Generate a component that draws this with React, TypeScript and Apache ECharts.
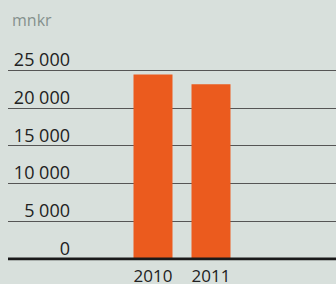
import React, { useEffect, useRef } from "react";
import * as echarts from "echarts";

const categories = ["2010", "2011"];
const values = [24400, 23100];
const unitLabel = "mnkr";
const yMax = 25000;
const yStep = 5000;

const fmt = (v: number) =>
  v === 0 ? "0" : String(v).replace(/\B(?=(\d{3})+(?!\d))/g, " ");

export default function App() {
  const ref = useRef<HTMLDivElement>(null);
  useEffect(() => {
    if (!ref.current) return;
    const chart = echarts.init(ref.current, undefined, { renderer: "svg" });
    const font = "'Open Sans', 'Noto Sans', sans-serif";
    chart.setOption({
      animation: false,
      backgroundColor: "#d8e0dc",
      title: {
        text: unitLabel,
        left: 7,
        top: 7,
        textStyle: { color: "#85908d", fontSize: 16, fontWeight: "normal", fontFamily: font },
      },
      grid: [
        { left: 8, right: 0, top: 70, bottom: 25 },
        { left: 124, right: 96, top: 70, bottom: 25 },
      ],
      xAxis: [
        {
          gridIndex: 0,
          type: "value",
          min: 0,
          max: 1,
          show: false,
        },
        {
          gridIndex: 1,
          type: "category",
          data: categories,
          axisLine: { show: false },
          axisTick: { show: false },
          axisLabel: { color: "#222", fontSize: 17, fontFamily: font, margin: 8 },
        },
      ],
      yAxis: [
        {
          gridIndex: 0,
          type: "value",
          min: 0,
          max: yMax,
          interval: yStep,
          axisLine: { show: false },
          axisTick: { show: false },
          splitLine: { lineStyle: { color: "#555", width: 1 } },
          axisLabel: {
            inside: true,
            align: "right",
            verticalAlign: "bottom",
            margin: 62,
            padding: [0, 0, 2, 0],
            color: "#222",
            fontSize: 18,
            fontFamily: font,
            formatter: (v: number) => fmt(v),
          },
        },
        {
          gridIndex: 1,
          type: "value",
          min: 0,
          max: yMax,
          interval: yStep,
          show: false,
        },
      ],
      series: [
        {
          type: "bar",
          xAxisIndex: 1,
          yAxisIndex: 1,
          data: values,
          barWidth: 39,
          itemStyle: { color: "#eb5b1e" },
          z: 2,
        },
        {
          type: "line",
          xAxisIndex: 0,
          yAxisIndex: 0,
          data: [[0, 0], [1, 0]],
          symbol: "none",
          lineStyle: { color: "#1a1a1a", width: 3 },
          z: 5,
        },
      ],
    });
    return () => chart.dispose();
  }, []);
  return <div ref={ref} style={{ width: 336, height: 284, position: "absolute", left: 0, top: 0 }} />;
}
